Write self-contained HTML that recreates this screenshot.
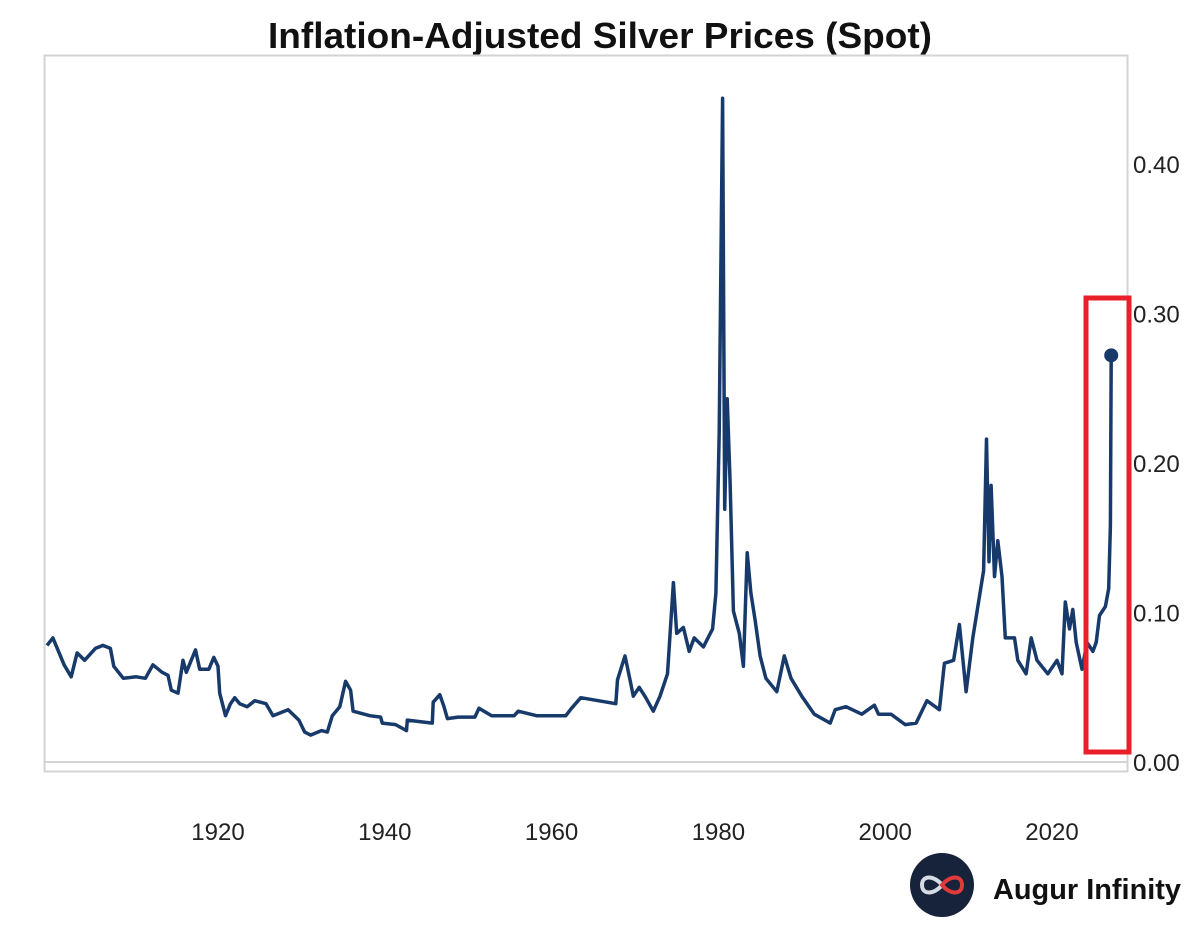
<!DOCTYPE html>
<html><head><meta charset="utf-8">
<style>
html,body{margin:0;padding:0;background:#fff;}
svg{display:block;font-family:"Liberation Sans",sans-serif;}
</style></head>
<body>
<svg id="chart" width="1200" height="937" viewBox="0 0 1200 937">
  <rect x="0" y="0" width="1200" height="937" fill="#fff"/>
  <text x="600" y="48" text-anchor="middle" font-size="36" font-weight="bold" fill="#111" textLength="664" lengthAdjust="spacingAndGlyphs">Inflation-Adjusted Silver Prices (Spot)</text>
  <rect x="44.5" y="55.5" width="1083" height="716" fill="none" stroke="#d3d3d3" stroke-width="2"/>
  <line x1="44" y1="762" x2="1127" y2="762" stroke="#d3d3d3" stroke-width="2"/>
  <g id="yticks"></g>
  <g id="xticks"></g>
  <path id="series" fill="none" stroke="#173a6b" stroke-width="3.5" stroke-linejoin="round"/>
  <circle id="lastdot" r="7" fill="#173a6b"/>
  <rect x="1086" y="298" width="43" height="454" fill="none" stroke="#e8202a" stroke-width="5"/>
  <g>
    <circle cx="942" cy="885" r="32" fill="#16233a"/>
    <path d="M942 885 C934 875 922 875 922 885 C922 895 934 895 942 885 Z" fill="none" stroke="#d7dbe3" stroke-width="4"/>
    <path d="M942 885 C950 875 962 875 962 885 C962 895 950 895 942 885 Z" fill="none" stroke="#e03a3a" stroke-width="4"/>
    <text x="993" y="899" font-size="29" font-weight="bold" fill="#111" textLength="188" lengthAdjust="spacingAndGlyphs">Augur Infinity</text>
  </g>
</svg>
<script>
const years = [1899.5,1900.2,1901.55,1902.4,1903.1,1904.0,1905.3,1906.2,1907.1,1907.5,1908.65,1910.2,1911.3,1912.2,1913.3,1914.0,1914.4,1915.2,1915.8,1916.2,1917.3,1917.8,1918.9,1919.5,1920.0,1920.2,1920.9,1921.5,1922.0,1922.6,1923.5,1924.4,1925.75,1926.6,1928.4,1929.7,1930.4,1931.1,1932.4,1933.1,1933.7,1934.6,1935.3,1935.9,1936.2,1938.2,1939.5,1939.7,1941.3,1942.6,1942.7,1945.7,1945.8,1946.6,1947.1,1947.5,1948.8,1950.8,1951.3,1952.8,1955.5,1956.0,1958.2,1961.7,1962.4,1963.5,1967.7,1967.9,1968.8,1969.4,1969.8,1970.5,1971.3,1972.2,1973.0,1973.9,1974.6,1975.0,1975.8,1976.5,1977.1,1978.2,1979.3,1979.7,1980.1,1980.5,1980.76,1981.05,1981.4,1981.8,1982.5,1983.0,1983.45,1983.9,1984.4,1985.0,1985.7,1987.0,1987.9,1988.7,1990.0,1991.5,1993.4,1994.0,1995.3,1997.2,1998.7,1999.2,2000.7,2002.4,2003.7,2005.0,2006.5,2007.1,2008.2,2008.9,2009.7,2010.5,2011.8,2012.15,2012.45,2012.7,2013.1,2013.5,2014.0,2014.4,2015.5,2015.9,2016.9,2017.5,2018.2,2019.5,2020.6,2021.2,2021.6,2022.1,2022.5,2022.9,2023.6,2024.2,2024.9,2025.3,2025.7,2026.4,2026.8,2027.0,2027.1];
const prices = [0.078,0.083,0.065,0.057,0.073,0.068,0.076,0.078,0.076,0.064,0.056,0.057,0.056,0.065,0.060,0.058,0.048,0.046,0.068,0.060,0.075,0.062,0.062,0.070,0.064,0.046,0.031,0.039,0.043,0.039,0.037,0.041,0.039,0.031,0.035,0.028,0.020,0.018,0.021,0.020,0.031,0.037,0.054,0.048,0.034,0.031,0.030,0.026,0.025,0.021,0.028,0.026,0.040,0.045,0.037,0.029,0.030,0.030,0.036,0.031,0.031,0.034,0.031,0.031,0.036,0.043,0.039,0.055,0.071,0.055,0.044,0.050,0.043,0.034,0.044,0.059,0.120,0.086,0.090,0.074,0.083,0.077,0.089,0.113,0.220,0.444,0.169,0.243,0.187,0.101,0.086,0.064,0.140,0.113,0.095,0.071,0.056,0.047,0.071,0.056,0.044,0.032,0.026,0.035,0.037,0.032,0.038,0.032,0.032,0.025,0.026,0.041,0.035,0.066,0.068,0.092,0.047,0.083,0.128,0.216,0.134,0.185,0.124,0.148,0.124,0.083,0.083,0.068,0.059,0.083,0.068,0.059,0.068,0.059,0.107,0.089,0.102,0.080,0.062,0.080,0.074,0.080,0.098,0.104,0.116,0.158,0.272];
const yTicks = [0.00,0.10,0.20,0.30,0.40];
const xTicks = [1920,1940,1960,1980,2000,2020];

function xScale(yr){ return 218 + (yr - 1920) * 8.34; }
function yScale(v){ return 762 - v * 1495; }
const NS = "http://www.w3.org/2000/svg";

let d = "";
for (let i = 0; i < years.length; i++) {
  d += (i ? "L" : "M") + xScale(years[i]).toFixed(1) + " " + yScale(prices[i]).toFixed(1);
}
document.getElementById("series").setAttribute("d", d);
const last = years.length - 1;
const dot = document.getElementById("lastdot");
dot.setAttribute("cx", xScale(years[last]));
dot.setAttribute("cy", yScale(prices[last]));

const yg = document.getElementById("yticks");
yTicks.forEach(v => {
  const t = document.createElementNS(NS, "text");
  
  
  t.setAttribute("x", 1133);
  t.setAttribute("y", yScale(v) + 9);
  t.setAttribute("font-size", "24");
  t.setAttribute("fill", "#222");
  t.textContent = v.toFixed(2);
  yg.appendChild(t);
});
const xg = document.getElementById("xticks");
xTicks.forEach(yr => {
  const t = document.createElementNS(NS, "text");
  
  
  t.setAttribute("x", xScale(yr));
  t.setAttribute("y", 840);
  t.setAttribute("text-anchor", "middle");
  t.setAttribute("font-size", "24");
  t.setAttribute("fill", "#222");
  t.textContent = yr;
  xg.appendChild(t);
});
</script>
</body></html>
